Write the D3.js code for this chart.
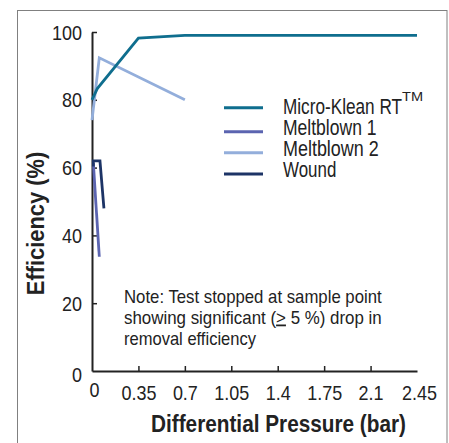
<!DOCTYPE html>
<html><head><meta charset="utf-8">
<script src="https://cdn.jsdelivr.net/npm/d3@7"></script>
<style>
body{margin:0;background:#fff;}
text{font-family:"Liberation Sans",Arial,sans-serif;fill:#222;}
</style></head><body>
<svg id="chart" width="449" height="443"></svg>
<script>
const seriesNames = ["Micro-Klean RT", "Meltblown 1", "Meltblown 2", "Wound"];
const seriesColors = ["#0f6e8e", "#5b64b0", "#93aedb", "#1d3466"];
const microKlean = [[0,80],[0.04,83.3],[0.35,98.2],[0.7,99],[1.05,99],[1.4,99],[1.75,99],[2.1,99],[2.45,99]];
const meltblown1 = [[0.01,61.3],[0.055,33.7]];
const meltblown2 = [[0,74],[0.055,92.4],[0.7,80]];
const wound = [[0.01,60.3],[0.01,62],[0.06,62],[0.09,48]];
const xTicks = [0,0.35,0.7,1.05,1.4,1.75,2.1,2.45];
const xTickLabels = ["0","0.35","0.7","1.05","1.4","1.75","2.1","2.45"];
const yTicks = [0,20,40,60,80,100];
const noteLines = ["Note:  Test stopped at sample point", "showing significant (", "removal efficiency"];

function fit(sel, w){ sel.attr("textLength", w).attr("lengthAdjust","spacingAndGlyphs"); }
function squeeze(sel, k){ sel.each(function(){ const w=this.getComputedTextLength(); d3.select(this).attr("textLength", w*k).attr("lengthAdjust","spacingAndGlyphs"); }); }

const svg = d3.select("#chart");
svg.append("rect").attr("x",17.5).attr("y",10.5).attr("width",429.5).attr("height",450)
  .attr("fill","none").attr("stroke","#808080").attr("stroke-width",1);

const x = d3.scaleLinear().domain([0,2.45]).range([92,417]);
const y = d3.scaleLinear().domain([0,100]).range([371,32]);

// x axis
const xa = svg.append("g").attr("transform","translate(0,371)")
  .call(d3.axisBottom(x).tickValues(xTicks).tickFormat((d,i)=>xTickLabels[i]).tickSizeInner(-5).tickSizeOuter(0).tickPadding(14));
xa.select(".domain").attr("stroke","#222").attr("stroke-width",2);
xa.selectAll(".tick line").attr("stroke","#222").attr("stroke-width",1.5)
  .attr("display",d=>(d===0||d===2.45)?"none":null);
xa.selectAll(".tick text").attr("font-size",21).attr("fill","#222").attr("font-family",null)
  .attr("dy",(d)=>d===0?"0.55em":"0.71em").attr("dx",d=>d===0?2:(d===2.45?2:0));
squeeze(xa.selectAll(".tick text"), 0.855);

// y axis
const ya = svg.append("g").attr("transform","translate(92,0)")
  .call(d3.axisLeft(y).tickValues(yTicks).tickSizeInner(-5).tickSizeOuter(0).tickPadding(10));
ya.select(".domain").attr("stroke","#222").attr("stroke-width",2);
ya.selectAll(".tick line").attr("stroke","#222").attr("stroke-width",1.5)
  .attr("display",d=>d===0?"none":null);
ya.selectAll(".tick text").attr("font-size",21).attr("fill","#222").attr("font-family",null)
  .attr("dy",d=>d===0?"0.5em":"0.34em");
squeeze(ya.selectAll(".tick text"), 0.855);

// lines
const line = d3.line().x(d=>x(d[0])).y(d=>y(d[1]));
const allSeries = [microKlean, meltblown1, meltblown2, wound];
const drawOrder = [2,1,3,0];
drawOrder.forEach(i=>{
  svg.append("path").datum(allSeries[i]).attr("d",line)
    .attr("fill","none").attr("stroke",seriesColors[i]).attr("stroke-width",2.8)
    .attr("stroke-linejoin","miter");
});

// legend
const legLineY = [107.7,131.7,152.7,174];
const legTextY = [114.3,135,156,176.7];
const legW = [119,93.5,95.7,53.3];
seriesNames.forEach((n,i)=>{
  svg.append("line").attr("x1",224).attr("x2",263).attr("y1",legLineY[i]).attr("y2",legLineY[i])
    .attr("stroke",seriesColors[i]).attr("stroke-width",3);
  const t = svg.append("text").attr("x",283).attr("y",legTextY[i]).attr("font-size",22).text(n);
  fit(t, legW[i]);
});
fit(svg.append("text").attr("x",402).attr("y",100.5).attr("font-size",12).text("TM"), 21);

// note
const n1 = svg.append("text").attr("x",124).attr("y",302.5).attr("font-size",17.8).text(noteLines[0]);
fit(n1, 257.7);
const n2 = svg.append("text").attr("x",124).attr("y",323.5).attr("font-size",17.8);
n2.append("tspan").text(noteLines[1]);
n2.append("tspan").text(">").style("text-decoration","underline").style("text-decoration-color","#7a1f3d");
n2.append("tspan").text(" 5 %) drop in");
fit(n2, 257.7);
const n3 = svg.append("text").attr("x",124).attr("y",344.5).attr("font-size",17.8).text(noteLines[2]);
fit(n3, 132);

// axis titles
const xt = svg.append("text").attr("x",278.5).attr("y",432).attr("text-anchor","middle")
  .attr("font-size",24).attr("font-weight","bold").text("Differential Pressure (bar)");
fit(xt, 255);
const yt = svg.append("text").attr("transform","translate(44,223.5) rotate(-90)").attr("text-anchor","middle")
  .attr("font-size",24).attr("font-weight","bold").text("Efficiency (%)");
fit(yt, 143.3);
</script></body></html>
